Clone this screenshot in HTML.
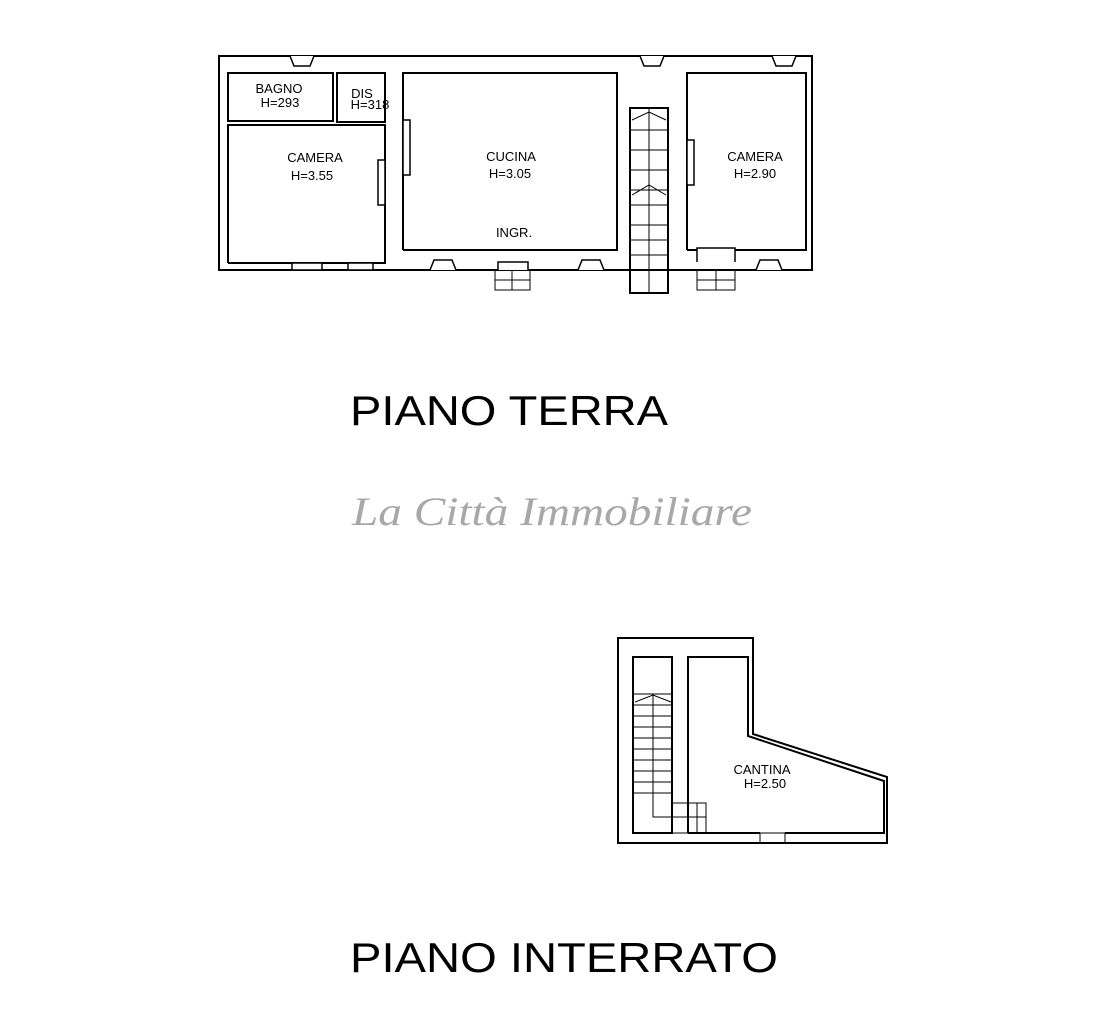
<!DOCTYPE html>
<html><head><meta charset="utf-8"><style>
html,body{margin:0;padding:0;background:#fff;}
svg{display:block;}
</style></head><body>
<svg width="1110" height="1024" viewBox="0 0 1110 1024" xmlns="http://www.w3.org/2000/svg">
<g fill="none" stroke="#000" stroke-width="2">
<!-- PIANO TERRA outer -->
<rect x="219" y="56" width="593" height="214"/>
<!-- rooms -->
<rect x="228" y="73" width="105" height="48"/>
<rect x="337" y="73" width="48" height="49"/>
<polyline points="228,263 228,125 385,125 385,263 228,263"/>
<polyline points="403,250 403,73 617,73 617,250 403,250"/>
<polyline points="687,250 687,73 806,73 806,250 687,250"/>
<!-- stair -->
<rect x="630" y="108" width="38" height="185"/>
<line x1="649" y1="108" x2="649" y2="293" stroke-width="1"/>
</g>
<g stroke="#000" stroke-width="1">
<line x1="630" y1="130" x2="668" y2="130"/><line x1="630" y1="150" x2="668" y2="150"/>
<line x1="630" y1="170" x2="668" y2="170"/><line x1="630" y1="190" x2="668" y2="190"/>
<line x1="630" y1="205" x2="668" y2="205"/><line x1="630" y1="225" x2="668" y2="225"/>
<line x1="630" y1="240" x2="668" y2="240"/><line x1="630" y1="255" x2="668" y2="255"/>
<line x1="630" y1="270" x2="668" y2="270"/>
<polyline points="632,120 649,112 666,120" fill="none"/>
<polyline points="632,195 649,185 666,195" fill="none"/>
<!-- entry steps -->
<rect x="495" y="270" width="35" height="20" fill="none"/><line x1="512" y1="270" x2="512" y2="290"/><line x1="495" y1="280" x2="530" y2="280"/>
<rect x="697" y="270" width="38" height="20" fill="none"/><line x1="716" y1="270" x2="716" y2="290"/><line x1="697" y1="280" x2="735" y2="280"/>
</g>
<!-- windows -->
<g fill="#fff" stroke="#000" stroke-width="1.5">
<path d="M290,56 L294,66 L310,66 L314,56"/>
<path d="M640,56 L644,66 L660,66 L664,56"/>
<path d="M772,56 L776,66 L792,66 L796,56"/>
<path d="M430,270 L434,260 L452,260 L456,270"/>
<path d="M578,270 L582,260 L600,260 L604,270"/>
<path d="M756,270 L760,260 L778,260 L782,270"/>
<path d="M498,270 L498,262 L528,262 L528,270"/>
<path d="M697,262 L697,248 L735,248 L735,262"/>
<rect x="292" y="263" width="30" height="7"/>
<rect x="348" y="263" width="25" height="7"/>
<rect x="378" y="160" width="7" height="45"/>
<rect x="403" y="120" width="7" height="55"/>
<rect x="687" y="140" width="7" height="45"/>
</g>
<g font-family="Liberation Sans, sans-serif" font-size="13" fill="#000" text-anchor="middle">
<text x="279" y="93">BAGNO</text><text x="280" y="107">H=293</text>
<text x="362" y="98">DIS</text><text x="370" y="109">H=318</text>
<text x="315" y="162">CAMERA</text><text x="312" y="180">H=3.55</text>
<text x="511" y="161">CUCINA</text><text x="510" y="178">H=3.05</text>
<text x="514" y="237">INGR.</text>
<text x="755" y="161">CAMERA</text><text x="755" y="178">H=2.90</text>
<text x="762" y="774">CANTINA</text><text x="765" y="788">H=2.50</text>
</g>
<!-- PIANO INTERRATO -->
<g fill="none" stroke="#000" stroke-width="2">
<polygon points="618,638 753,638 753,734 887,777 887,843 618,843"/>
<polyline points="688,833 688,657 748,657 748,736 884,781 884,833 785,833"/>
<line x1="633" y1="833" x2="672" y2="833"/>
<line x1="688" y1="833" x2="760" y2="833"/>
<rect x="633" y="657" width="39" height="176"/>
</g>
<g stroke="#000" stroke-width="1" fill="none">
<line x1="633" y1="694" x2="672" y2="694"/><line x1="633" y1="705" x2="672" y2="705"/>
<line x1="633" y1="716" x2="672" y2="716"/><line x1="633" y1="727" x2="672" y2="727"/>
<line x1="633" y1="738" x2="672" y2="738"/><line x1="633" y1="749" x2="672" y2="749"/>
<line x1="633" y1="760" x2="672" y2="760"/><line x1="633" y1="771" x2="672" y2="771"/>
<line x1="633" y1="782" x2="672" y2="782"/><line x1="633" y1="793" x2="672" y2="793"/>
<line x1="653" y1="694" x2="653" y2="817"/>
<polyline points="653,817 706,817"/>
<rect x="672" y="803" width="34" height="30"/>
<line x1="688" y1="803" x2="688" y2="833"/><line x1="697" y1="803" x2="697" y2="833"/>
<polyline points="635,702 653,695 671,702"/>
<rect x="760" y="833" width="25" height="10"/>
</g>
<text x="350" y="425" font-family="Liberation Sans, sans-serif" font-size="42" textLength="318" lengthAdjust="spacingAndGlyphs" fill="#000">PIANO TERRA</text>
<text x="352" y="525" font-family="Liberation Serif, serif" font-style="italic" font-size="40" textLength="400" lengthAdjust="spacingAndGlyphs" fill="#a8a8a8">La Città Immobiliare</text>
<text x="350" y="972" font-family="Liberation Sans, sans-serif" font-size="42" textLength="428" lengthAdjust="spacingAndGlyphs" fill="#000">PIANO INTERRATO</text>
</svg>
</body></html>
